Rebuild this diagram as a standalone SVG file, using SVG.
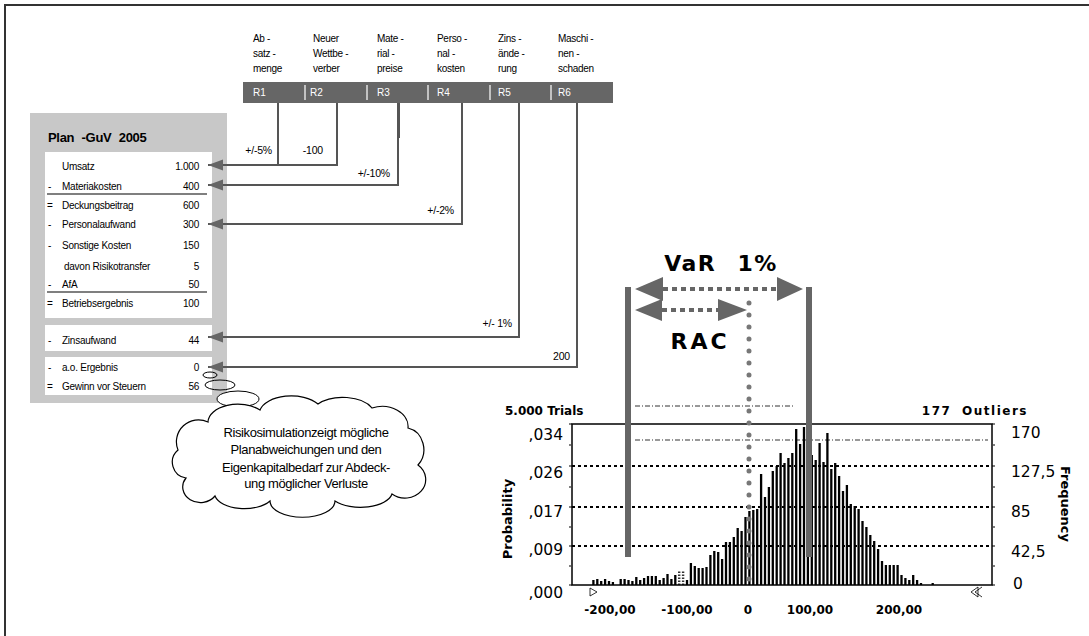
<svg xmlns="http://www.w3.org/2000/svg" width="1089" height="636" viewBox="0 0 1089 636">
<defs>
<marker id="ah" markerUnits="userSpaceOnUse" markerWidth="16" markerHeight="12" refX="15" refY="6" orient="auto">
<path d="M0,0.5 L15,6 L0,11.5 Z" fill="#666"/>
</marker>
<style>
text{font-family:"Liberation Sans",Arial,sans-serif;fill:#000}
.hd{font-size:10px;letter-spacing:-0.3px}
.rl{font-size:10px;fill:#fff}
.tb{font-size:10px;letter-spacing:-0.25px}
.tv{font-size:10px;letter-spacing:-0.25px;text-anchor:end}
.cl{font-size:10.5px;letter-spacing:-0.2px;text-anchor:end}
.con{fill:none;stroke:#555;stroke-width:2}
.ax{font-family:"DejaVu Sans",Verdana,sans-serif;font-size:15.5px}
.axb{font-family:"DejaVu Sans",Verdana,sans-serif;font-size:13px;font-weight:bold}
.xl{font-family:"DejaVu Sans",Verdana,sans-serif;font-size:12px;font-weight:bold;text-anchor:middle}
.big{font-family:"DejaVu Sans",Verdana,sans-serif;font-size:22px;font-weight:bold;text-anchor:middle}
.grid{stroke:#000;stroke-width:2;stroke-dasharray:3 3}
.thin{stroke:#333;stroke-width:1;stroke-dasharray:5 2 1 2}
.cloud{font-size:13px;letter-spacing:-0.4px;text-anchor:middle}
</style>
</defs>
<rect width="1089" height="636" fill="#fff"/>
<path d="M5,636 V5 H1089" fill="none" stroke="#333" stroke-width="2"/>

<g id="header">
<rect x="243" y="82" width="370" height="21" fill="#666"/>
<path d="M305,85V100M367,85V100M428,85V100M490,85V100M551,85V100" stroke="#fff" stroke-width="1.2"/>
<text class="rl" x="253" y="96">R1</text>
<text class="rl" x="310" y="96">R2</text>
<text class="rl" x="377" y="96">R3</text>
<text class="rl" x="437" y="96">R4</text>
<text class="rl" x="498" y="96">R5</text>
<text class="rl" x="558" y="96">R6</text>
<text class="hd" x="253" y="42">Ab -</text><text class="hd" x="253" y="57">satz -</text><text class="hd" x="253" y="72">menge</text>
<text class="hd" x="313" y="42">Neuer</text><text class="hd" x="313" y="57">Wettbe -</text><text class="hd" x="313" y="72">verber</text>
<text class="hd" x="377" y="42">Mate -</text><text class="hd" x="377" y="57">rial -</text><text class="hd" x="377" y="72">preise</text>
<text class="hd" x="437" y="42">Perso -</text><text class="hd" x="437" y="57">nal -</text><text class="hd" x="437" y="72">kosten</text>
<text class="hd" x="498" y="42">Zins -</text><text class="hd" x="498" y="57">ände -</text><text class="hd" x="498" y="72">rung</text>
<text class="hd" x="558" y="42">Maschi -</text><text class="hd" x="558" y="57">nen -</text><text class="hd" x="558" y="72">schaden</text>
</g>

<g id="plan-guv">
<rect x="30" y="113" width="197" height="290" fill="#c8c8c8"/>
<text x="48" y="142" style="font-size:13px;font-weight:bold;letter-spacing:-0.3px;word-spacing:4px">Plan -GuV 2005</text>
<rect x="45" y="152" width="167" height="166" fill="#fff"/>
<rect x="45" y="325" width="167" height="26" fill="#fff"/>
<rect x="45" y="357" width="167" height="38" fill="#fff"/>
<path d="M47,194H207M47,292H207" stroke="#555" stroke-width="1.5"/>
<text class="tb" x="62" y="170">Umsatz</text><text class="tv" x="199" y="170">1.000</text>
<text class="tb" x="48" y="190">-</text><text class="tb" x="62" y="190">Materiakosten</text><text class="tv" x="199" y="190">400</text>
<text class="tb" x="47" y="209">=</text><text class="tb" x="62" y="209">Deckungsbeitrag</text><text class="tv" x="199" y="209">600</text>
<text class="tb" x="48" y="228">-</text><text class="tb" x="62" y="228">Personalaufwand</text><text class="tv" x="199" y="228">300</text>
<text class="tb" x="48" y="249">-</text><text class="tb" x="62" y="249">Sonstige Kosten</text><text class="tv" x="199" y="249">150</text>
<text class="tb" x="64" y="270">davon Risikotransfer</text><text class="tv" x="199" y="270">5</text>
<text class="tb" x="48" y="288">-</text><text class="tb" x="62" y="288">AfA</text><text class="tv" x="199" y="288">50</text>
<text class="tb" x="47" y="307">=</text><text class="tb" x="62" y="307">Betriebsergebnis</text><text class="tv" x="199" y="307">100</text>
<text class="tb" x="48" y="344">-</text><text class="tb" x="62" y="344">Zinsaufwand</text><text class="tv" x="199" y="344">44</text>
<text class="tb" x="48" y="371">-</text><text class="tb" x="62" y="371">a.o. Ergebnis</text><text class="tv" x="199" y="371">0</text>
<text class="tb" x="47" y="390">=</text><text class="tb" x="62" y="390">Gewinn vor Steuern</text><text class="tv" x="199" y="390">56</text>
</g>

<g id="connectors">
<path class="con" d="M278,103V165H208" marker-end="url(#ah)"/>
<path class="con" d="M337,103V165H278"/>
<path class="con" d="M398,103V185H208" marker-end="url(#ah)"/>
<path d="M398.5,103V138" stroke="#555" stroke-width="3"/>
<path class="con" d="M462,103V224H208" marker-end="url(#ah)"/>
<path class="con" d="M519,103V337H208" marker-end="url(#ah)"/>
<path class="con" d="M577,103V367H208" marker-end="url(#ah)"/>
<text class="cl" x="272" y="154">+/-5%</text>
<text class="cl" x="323" y="154">-100</text>
<text class="cl" x="390" y="177">+/-10%</text>
<text class="cl" x="454" y="214">+/-2%</text>
<text class="cl" x="512" y="327">+/- 1%</text>
<text class="cl" x="570" y="360">200</text>
</g>

<g id="thought-cloud">
<ellipse cx="210" cy="375" rx="7" ry="3" fill="none" stroke="#000" stroke-width="1"/>
<ellipse cx="220" cy="385" rx="15" ry="5" fill="none" stroke="#000" stroke-width="1"/>
<ellipse cx="238" cy="399" rx="21" ry="8" fill="#fff" stroke="#000" stroke-width="1"/>
<path d="M186,478 A16,16 0 0 1 178,450 A22,22 0 0 1 208,422 A30,18 0 0 1 260,410 A32,18 0 0 1 318,404 A32,18 0 0 1 372,408 A26,20 0 0 1 408,428 A20,22 0 0 1 418,465 A20,18 0 0 1 392,494 A32,16 0 0 1 335,501 A32,16 0 0 1 270,501 A30,16 0 0 1 215,496 A16,14 0 0 1 186,478 Z" fill="#fff" stroke="#000" stroke-width="1.2"/>
<text class="cloud" x="306" y="437">Risikosimulationzeigt mögliche</text>
<text class="cloud" x="306" y="454">Planabweichungen und den</text>
<text class="cloud" x="306" y="472">Eigenkapitalbedarf zur Abdeck-</text>
<text class="cloud" x="306" y="488">ung möglicher Verluste</text>
</g>

<g id="chart">
<line class="thin" x1="635" y1="406" x2="793" y2="406"/>
<line class="thin" x1="635" y1="440" x2="988" y2="440"/>
<line class="grid" x1="572" y1="466" x2="992" y2="466"/>
<line class="grid" x1="572" y1="507" x2="992" y2="507"/>
<line class="grid" x1="572" y1="546" x2="992" y2="546"/>
<path d="M593.4 585v-5M597.3 585v-6M601.2 585v-4M605.1 585v-6M609 585v-4M612.9 585v-3M620.7 585v-6M624.6 585v-6M628.5 585v-5M632.4 585v-4M636.3 585v-8M640.2 585v-5M644.1 585v-7M648 585v-9M651.9 585v-9M655.8 585v-9M659.7 585v-5M663.6 585v-7M667.5 585v-11M671.4 585v-6M675.3 585v-10M687 585v-5M690.9 585v-22M694.8 585v-19M698.7 585v-17M702.6 585v-17M706.5 585v-18M710.4 585v-30M714.3 585v-34M718.2 585v-33M722.1 585v-26M726 585v-43M729.9 585v-43M733.8 585v-48M737.7 585v-57M741.6 585v-54M745.5 585v-68M749.4 585v-74M753.3 585v-75M757.2 585v-76M761.1 585v-111M765 585v-88M768.9 585v-98M772.8 585v-114M776.7 585v-119M780.6 585v-132M784.5 585v-122M788.4 585v-127M792.3 585v-132M796.2 585v-156M800.1 585v-141M804 585v-158M807.9 585v-153M811.8 585v-130M815.7 585v-125M819.6 585v-142M823.5 585v-123M827.4 585v-152M831.3 585v-116M835.2 585v-122M839.1 585v-109M843 585v-94M846.9 585v-100M850.8 585v-81M854.7 585v-79M858.6 585v-76M862.5 585v-64M866.4 585v-58M870.3 585v-50M874.2 585v-44M878.1 585v-36M882 585v-24M885.9 585v-20M889.8 585v-20M893.7 585v-20M897.6 585v-20M901.5 585v-10M905.4 585v-7M909.3 585v-5M913.2 585v-10M917.1 585v-5M921 585v-2M932.7 585v-2" stroke="#000" stroke-width="2.3"/>
<path d="M679.2 585v-14M683.1 585v-14" stroke="#333" stroke-width="2.4" stroke-dasharray="1.5 1.5"/>
<rect x="572" y="424" width="420" height="161" fill="none" stroke="#000" stroke-width="1.5"/>
<path d="M569,424h3M569,445h2M569,466h3M569,487h2M569,507h3M569,527h2M569,546h3M569,566h2M569,585h3M992,424h3M993,445h2M992,466h3M993,487h2M992,507h3M993,527h2M992,546h3M993,566h2M992,585h3" stroke="#000" stroke-width="1.2"/>
<path d="M590,588 L597,592 L590,596 Z" fill="#fff" stroke="#000" stroke-width="0.8"/>
<path d="M978,587 L971,592 L978,597 Z M982,587 L975,592 L982,597" fill="#fff" stroke="#000" stroke-width="0.8"/>
<rect x="625" y="287" width="6" height="270" fill="#666"/>
<rect x="806" y="287" width="6" height="270" fill="#666"/>
<line x1="749" y1="303" x2="749" y2="585" stroke="#777" stroke-width="5" stroke-dasharray="0 12" stroke-linecap="round"/>
<line x1="663" y1="289" x2="777" y2="289" stroke="#666" stroke-width="4" stroke-dasharray="5 4"/>
<path d="M635,289 L663,277 L663,301 Z M803,289 L777,277 L777,301 Z" fill="#666"/>
<line x1="662" y1="310" x2="718" y2="310" stroke="#666" stroke-width="4" stroke-dasharray="5 4"/>
<path d="M635,310 L662,299 L662,321 Z M747,310 L718,299 L718,321 Z" fill="#666"/>
<text class="big" x="721" y="271" style="letter-spacing:1.5px;word-spacing:12px">VaR 1%</text>
<text class="big" x="700" y="349" style="letter-spacing:3px">RAC</text>
<text class="axb" x="505" y="415" style="font-size:12px">5.000 Trials</text>
<text class="axb" x="1028" y="415" text-anchor="end" style="font-size:12px;letter-spacing:1.5px;word-spacing:5px">177 Outliers</text>
<text class="ax" x="563" y="440" text-anchor="end">,034</text>
<text class="ax" x="563" y="478" text-anchor="end">,026</text>
<text class="ax" x="563" y="517" text-anchor="end">,017</text>
<text class="ax" x="563" y="555" text-anchor="end">,009</text>
<text class="ax" x="563" y="598" text-anchor="end">,000</text>
<text class="ax" x="1011" y="438">170</text>
<text class="ax" x="1011" y="477">127,5</text>
<text class="ax" x="1011" y="517">85</text>
<text class="ax" x="1011" y="557">42,5</text>
<text class="ax" x="1013" y="589">0</text>
<text class="axb" transform="translate(512,519) rotate(-90)" text-anchor="middle">Probability</text>
<text class="axb" transform="translate(1061,504) rotate(90)" text-anchor="middle">Frequency</text>
<text class="xl" x="610" y="614">-200,00</text>
<text class="xl" x="687" y="614">-100,00</text>
<text class="xl" x="748" y="614">0</text>
<text class="xl" x="810" y="614">100,00</text>
<text class="xl" x="899" y="614">200,00</text>
</g>
</svg>
